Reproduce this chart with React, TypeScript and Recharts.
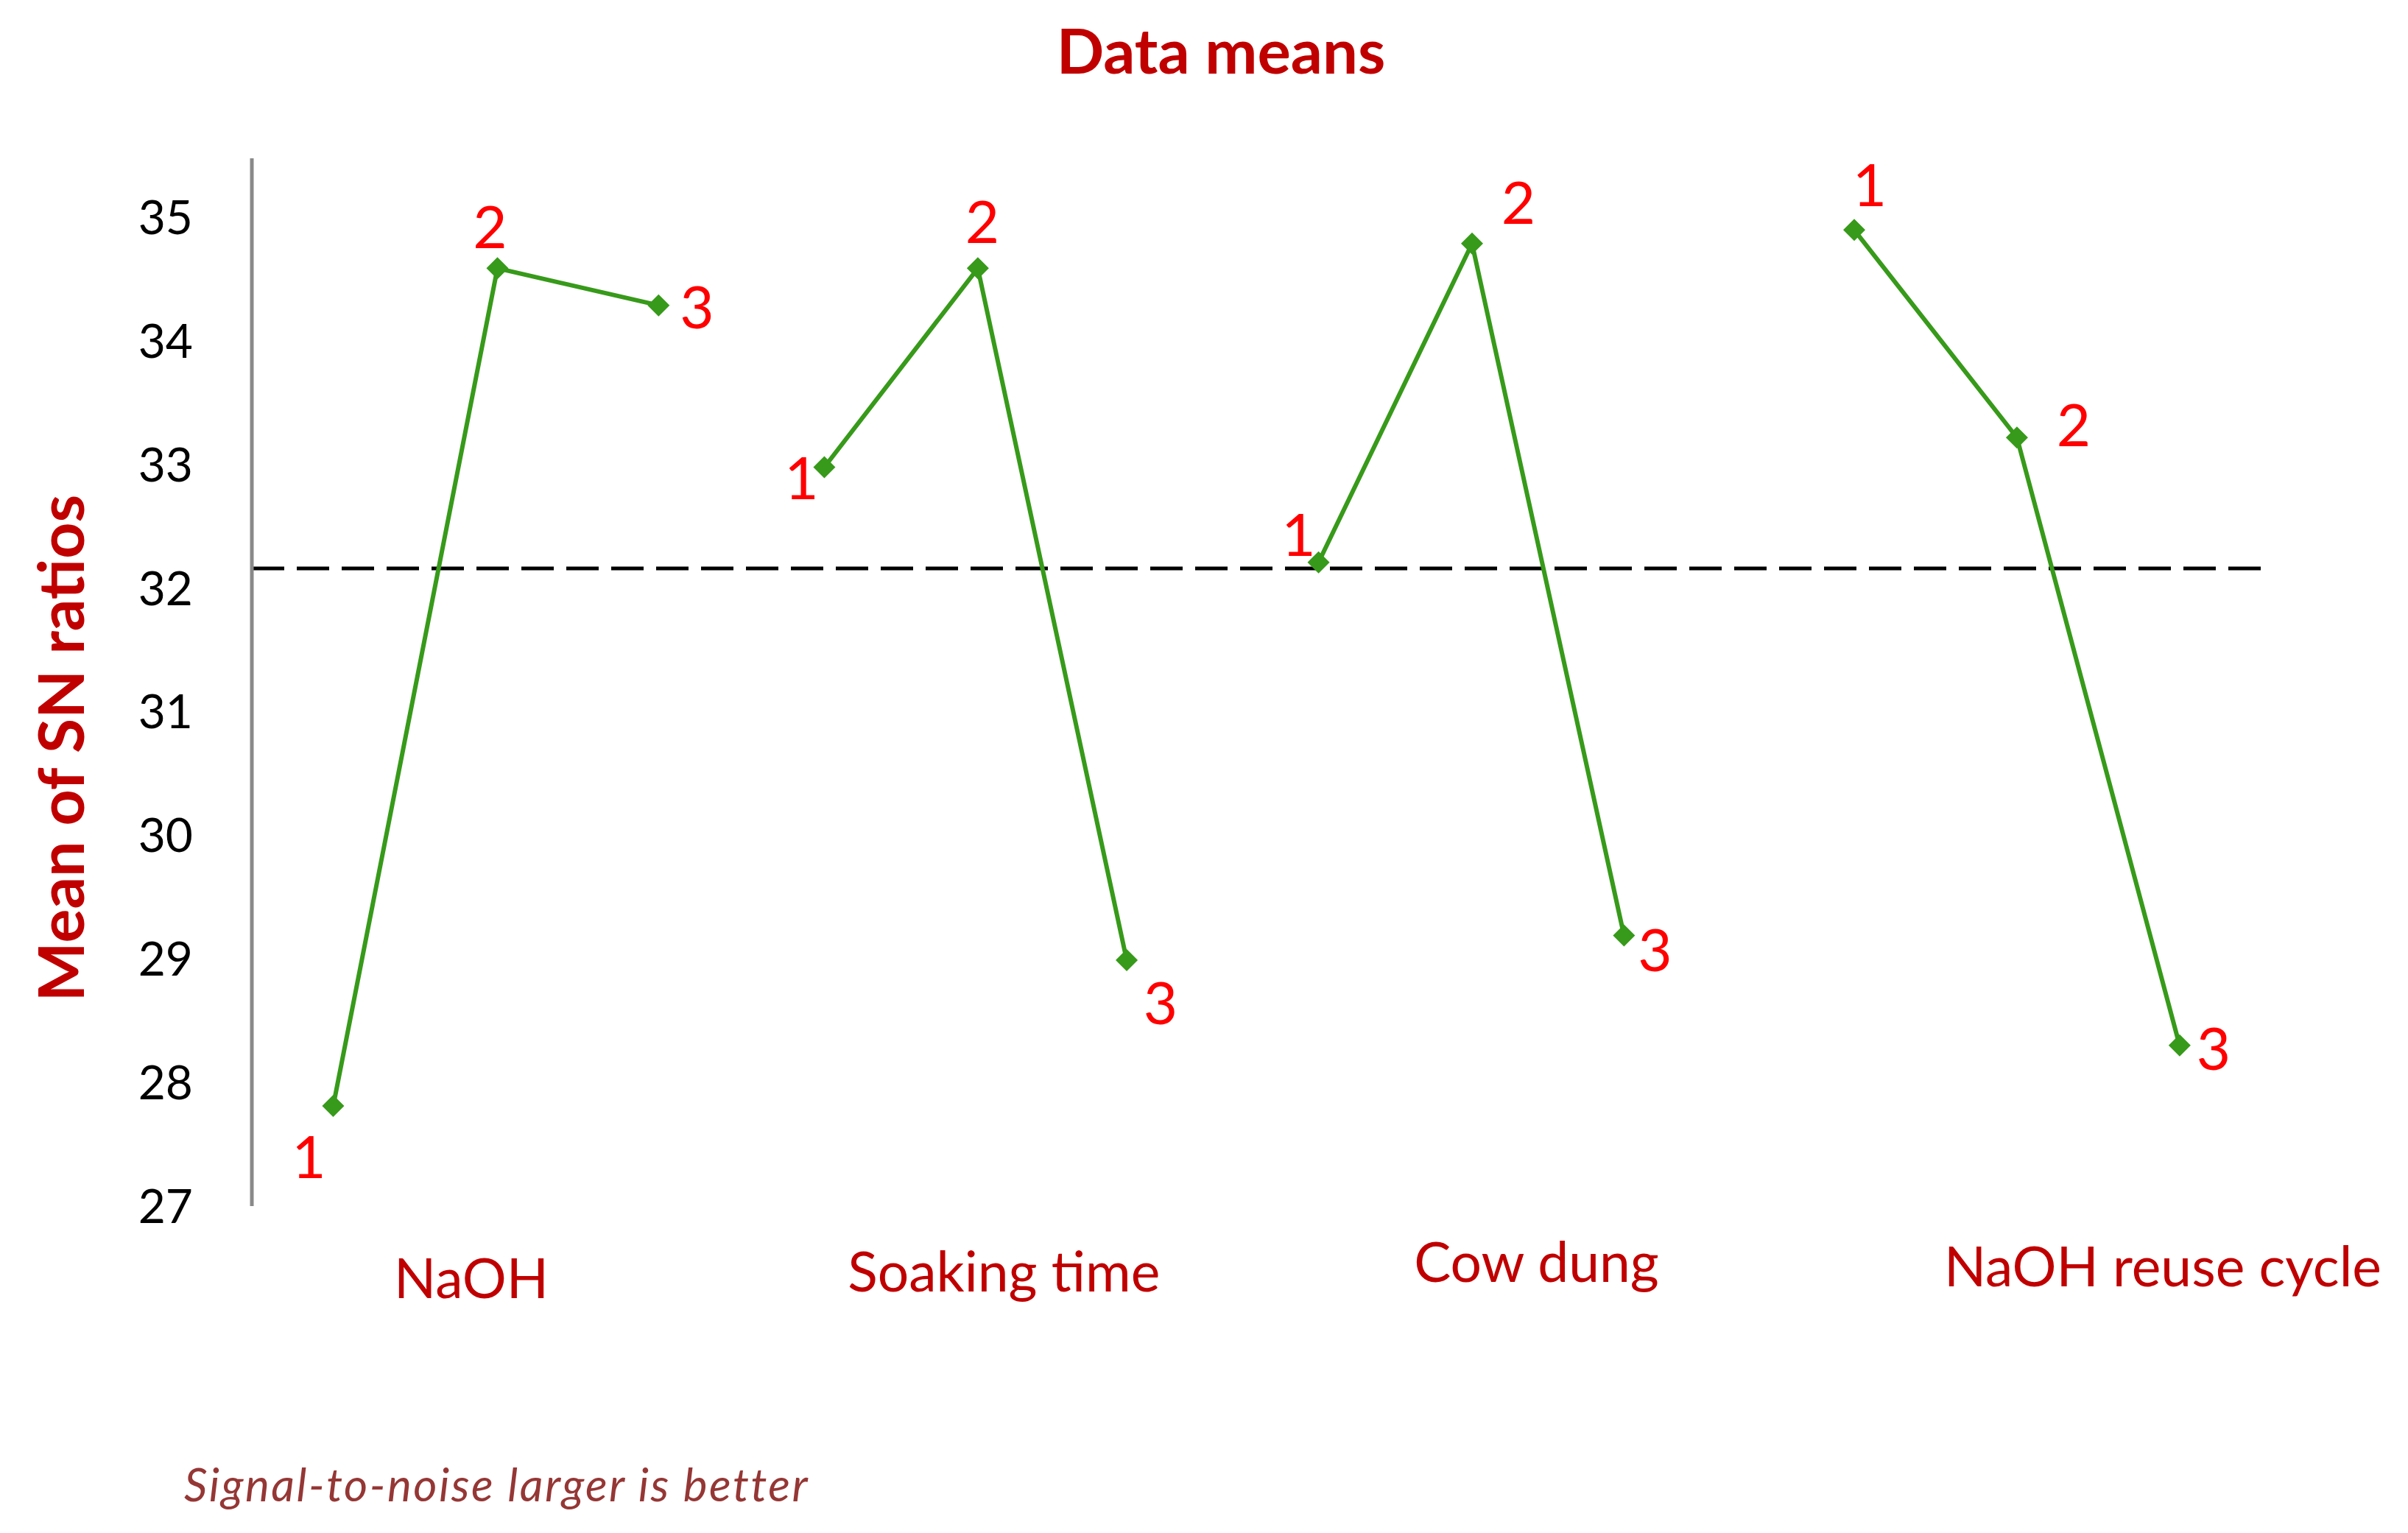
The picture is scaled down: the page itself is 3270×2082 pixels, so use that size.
import { LineChart, Line, XAxis, YAxis, ReferenceLine } from 'recharts'

// factor names and level labels
const factors = ['NaOH', 'Soaking time', 'Cow dung', 'NaOH reuse cycle']
const levelNames = ['1', '2', '3']

// mean of SN ratios per level
const naohMeans = [27.81, 34.59, 34.29]
const soakingMeans = [32.98, 34.59, 28.99]
const cowDungMeans = [32.21, 34.79, 29.19]
const reuseMeans = [34.9, 33.22, 28.3]

// level positions along the horizontal axis
const naohX = [2.16, 3.23, 4.28]
const soakingX = [5.36, 6.36, 7.33]
const cowDungX = [8.58, 9.58, 10.57]
const reuseX = [12.07, 13.13, 14.19]
const factorLabelX = [3.06, 6.53, 10.0, 14.08]

const grandMean = 32.16
const yTicks = [27, 28, 29, 30, 31, 32, 33, 34, 35]

const W = 3270
const H = 2082
const GREEN = '#379a1a'
const DARK_RED = '#c00000'

// where the red level numbers sit around each marker (px)
const labelOffsets = [
  [[-33, 67], [-10, -58], [52, 0]],
  [[-31, 12], [6, -65], [46, 56]],
  [[-27, -40], [63, -58], [42, 17]],
  [[21, -63], [77, -19], [46, 2]],
]
const factorLabelDy = [96, 87, 74, 80]

const series = [
  { xs: naohX, ys: naohMeans },
  { xs: soakingX, ys: soakingMeans },
  { xs: cowDungX, ys: cowDungMeans },
  { xs: reuseX, ys: reuseMeans },
].map((s) => s.xs.map((x, i) => ({ x, y: s.ys[i], level: levelNames[i] })))

const Diamond = (props: any) => {
  const { cx, cy } = props
  if (cx == null || cy == null) return null
  const r = 15
  return <path d={`M${cx},${cy - r} L${cx + r},${cy} L${cx},${cy + r} L${cx - r},${cy} Z`} fill={GREEN} />
}

const makeLabel = (g: number) => (props: any) => {
  const { x, y, index } = props
  const [dx, dy] = labelOffsets[g][index]
  return (
    <text
      x={x + dx}
      y={y + dy}
      textAnchor="middle"
      dominantBaseline="central"
      fill="#ff0000"
      fontSize={80}
      fontFamily="Lato"
    >
      {levelNames[index]}
    </text>
  )
}

const FactorTick = (props: any) => {
  const { x, y, index } = props
  return (
    <text
      x={x}
      y={y + factorLabelDy[index]}
      textAnchor="middle"
      dominantBaseline="central"
      fill={DARK_RED}
      fontSize={75}
      fontFamily="Lato"
    >
      {factors[index]}
    </text>
  )
}

export default function App() {
  return (
    <div style={{ position: 'absolute', left: 0, top: 0, width: W, height: H, background: '#fff', fontFamily: 'Lato' }}>
      <LineChart width={W} height={H} margin={{ top: 215, right: 183, left: 0, bottom: 443 }}>
        <XAxis
          type="number"
          dataKey="x"
          domain={[1.63, 14.8]}
          ticks={factorLabelX}
          interval={0}
          axisLine={false}
          tickLine={false}
          tickSize={0}
          tickMargin={0}
          tick={(p: any) => <FactorTick {...p} />}
          height={1}
          allowDataOverflow
        />
        <YAxis
          type="number"
          domain={[27, 35.48]}
          ticks={yTicks}
          interval={0}
          width={342}
          tickLine={false}
          tickSize={0}
          tickMargin={80}
          axisLine={{ stroke: '#898989', strokeWidth: 5 }}
          tick={{ fill: '#000', fontSize: 64, fontFamily: 'Lato' }}
          allowDataOverflow
        />
        <ReferenceLine y={grandMean} stroke="#000" strokeWidth={5} strokeDasharray="44 17" />
        {series.map((data, g) => (
          <Line
            key={g}
            data={data}
            dataKey="y"
            stroke={GREEN}
            strokeWidth={6}
            dot={<Diamond />}
            activeDot={false}
            label={makeLabel(g)}
            isAnimationActive={false}
          />
        ))}
      </LineChart>
      <div
        style={{
          position: 'absolute',
          left: 1658,
          top: 67,
          transform: 'translate(-50%, -50%)',
          color: DARK_RED,
          fontWeight: 700,
          fontSize: 85,
          whiteSpace: 'nowrap',
        }}
      >
        Data means
      </div>
      <div
        style={{
          position: 'absolute',
          left: 80,
          top: 1016,
          transform: 'translate(-50%, -50%) rotate(-90deg)',
          color: DARK_RED,
          fontWeight: 700,
          fontSize: 86,
          whiteSpace: 'nowrap',
        }}
      >
        Mean of SN ratios
      </div>
      <div
        style={{
          position: 'absolute',
          left: 250,
          top: 2015,
          transform: 'translateY(-50%)',
          color: '#953735',
          fontStyle: 'italic',
          fontSize: 62,
          letterSpacing: 2.5,
          whiteSpace: 'nowrap',
        }}
      >
        Signal-to-noise larger is better
      </div>
    </div>
  )
}
